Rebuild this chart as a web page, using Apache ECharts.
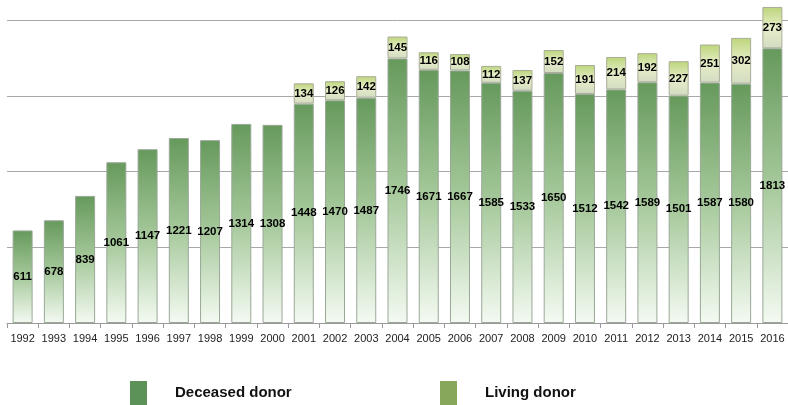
<!DOCTYPE html>
<html><head><meta charset="utf-8">
<script src="https://cdn.jsdelivr.net/npm/echarts@6/dist/echarts.min.js"></script>
<style>html,body{margin:0;padding:0;background:#fff}#c{width:788px;height:405px}</style>
</head><body><div id="c"></div>
<script>
const years = ['1992','1993','1994','1995','1996','1997','1998','1999','2000','2001','2002','2003','2004','2005','2006','2007','2008','2009','2010','2011','2012','2013','2014','2015','2016'];
const deceased = [611,678,839,1061,1147,1221,1207,1314,1308,1448,1470,1487,1746,1671,1667,1585,1533,1650,1512,1542,1589,1501,1587,1580,1813];
const living = [null,null,null,null,null,null,null,null,null,134,126,142,145,116,108,112,137,152,191,214,192,227,251,302,273];

const chart = echarts.init(document.getElementById('c'));
const font = 'Liberation Sans, Arial, sans-serif';
chart.setOption({
  animation: false,
  grid: {left: 7, right: 0, top: 20, bottom: 82},
  xAxis: {
    type: 'category', data: years,
    axisLine: {lineStyle: {color: '#9a9a9a'}},
    axisTick: {show: true, length: 5, interval: 0, lineStyle: {color: '#9a9a9a'}},
    axisLabel: {interval: 0, color: '#222', fontFamily: font, fontSize: 11, margin: 10}
  },
  yAxis: {
    type: 'value', min: 0, max: 2000, interval: 500,
    axisLabel: {show: false}, axisLine: {show: false}, axisTick: {show: false},
    splitLine: {lineStyle: {color: '#a8a8a8', width: 1}}
  },
  legend: [
    {left: 130, top: 381, padding: 0, icon: 'rect', itemWidth: 17, itemHeight: 24, data: [{name: 'Deceased donor', itemStyle: {color: '#5c9157', borderWidth: 0}}],
     textStyle: {fontFamily: font, fontSize: 15, fontWeight: 'bold', color: '#111', padding: [8,0,0,23]}},
    {left: 440, top: 381, padding: 0, icon: 'rect', itemWidth: 17, itemHeight: 24, data: [{name: 'Living donor', itemStyle: {color: '#87a75b', borderWidth: 0}}],
     textStyle: {fontFamily: font, fontSize: 15, fontWeight: 'bold', color: '#111', padding: [8,0,0,23]}}
  ],
  series: [
    {
      name: 'Deceased donor', type: 'bar', stack: 't', barWidth: 20, clip: false,
      data: deceased,
      itemStyle: {
        color: new echarts.graphic.LinearGradient(0,0,0,1,[
          {offset: 0, color: '#66995c'},
          {offset: 0.5, color: '#a6c99b'},
          {offset: 1, color: '#f4faf2'}
        ]),
        borderColor: '#9aa898', borderWidth: 1
      },
      label: {show: true, position: 'inside', color: '#000', fontFamily: font, fontSize: 11.5, fontWeight: 'bold'}
    },
    {
      name: 'Living donor', type: 'bar', stack: 't', barWidth: 20, clip: false,
      data: living,
      itemStyle: {
        color: new echarts.graphic.LinearGradient(0,0,0,1,[
          {offset: 0, color: '#bcd57a'},
          {offset: 0.5, color: '#e6edc8'},
          {offset: 1, color: '#d3dcc2'}
        ]),
        borderColor: '#a9ad98', borderWidth: 1
      },
      label: {show: true, position: 'inside', color: '#000', fontFamily: font, fontSize: 11.5, fontWeight: 'bold'}
    }
  ]
});
</script></body></html>
